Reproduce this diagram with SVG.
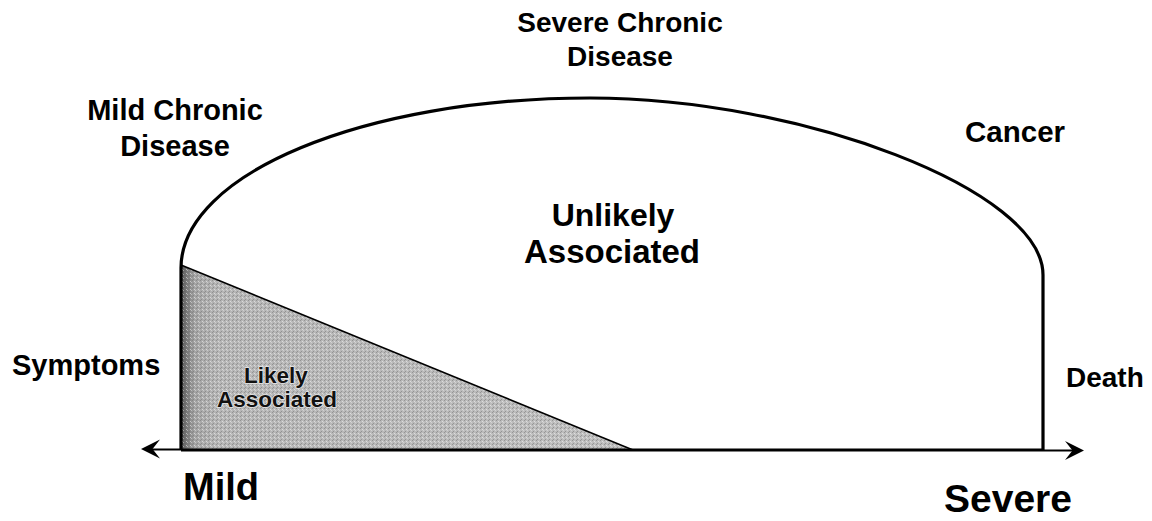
<svg xmlns="http://www.w3.org/2000/svg" width="1152" height="521" viewBox="0 0 1152 521">
  <style>
    .lbl { font-family: "Liberation Sans", Arial, sans-serif; font-weight: bold; fill: #000; text-anchor: middle; }
    .st { text-anchor: start; }
    .outline { fill: none; stroke: #000; stroke-width: 3.2; stroke-linejoin: round; }
    .axis { fill: none; stroke: #000; stroke-width: 3; }
    .thin { fill: none; stroke: #000; stroke-width: 2; }
    .head { fill: #000; stroke: none; }
    .inner { fill: #111; stroke: #e6e6e6; stroke-width: 1.6; paint-order: stroke; }
  </style>
  <defs>
    <linearGradient id="shade" gradientUnits="userSpaceOnUse" x1="181" y1="0" x2="633" y2="0">
      <stop offset="0" stop-color="#555"/>
      <stop offset="0.03" stop-color="#a4a4a4"/>
      <stop offset="0.08" stop-color="#b6b6b6"/>
      <stop offset="1" stop-color="#bfbfbf"/>
    </linearGradient>
    <pattern id="stipple" width="4" height="4" patternUnits="userSpaceOnUse">
      <rect x="0" y="0" width="1" height="1" fill="#777" opacity="0.55"/>
      <rect x="2" y="1" width="1" height="1" fill="#fff" opacity="0.5"/>
      <rect x="1" y="3" width="1" height="1" fill="#666" opacity="0.45"/>
      <rect x="3" y="2" width="1" height="1" fill="#eee" opacity="0.45"/>
    </pattern>
  </defs>

  <rect width="1152" height="521" fill="#fff"/>

  <g id="likely-region">
    <polygon points="181,265 633,450 181,450" fill="url(#shade)"/>
    <polygon points="181,265 633,450 181,450" fill="url(#stipple)"/>
    <line x1="181" y1="265" x2="633" y2="450" stroke="#000" stroke-width="1.6"/>
    <text class="lbl inner" x="276" y="383" font-size="22.5">Likely</text>
    <text class="lbl inner" x="277" y="407" font-size="22.5">Associated</text>
  </g>

  <g id="dome">
    <path class="outline" d="M181,450 L181,268 C181,174 364,98 590,98 C800,98 1043,190 1043,275 L1043,450"/>
  </g>

  <g id="connectors">
    <line class="axis" x1="181" y1="450" x2="1043" y2="450"/>
    <line class="thin" x1="150" y1="449.5" x2="181" y2="449.5"/>
    <path class="head" d="M141,449 L160,439.5 L152.5,449 L160,458.5 Z"/>
    <line class="thin" x1="1043" y1="450.5" x2="1075" y2="450.5"/>
    <path class="head" d="M1084,450.5 L1065,441 L1072.5,450.5 L1065,460 Z"/>
  </g>

  <g id="unlikely-label">
    <text class="lbl" x="613" y="226" font-size="32">Unlikely</text>
    <text class="lbl" x="612" y="263" font-size="33">Associated</text>
  </g>

  <g id="mild-chronic">
    <text class="lbl" x="175" y="120" font-size="29">Mild Chronic</text>
    <text class="lbl" x="175" y="156" font-size="29">Disease</text>
  </g>

  <g id="severe-chronic">
    <text class="lbl" x="620" y="32" font-size="28">Severe Chronic</text>
    <text class="lbl" x="620" y="66" font-size="28">Disease</text>
  </g>

  <g id="cancer">
    <text class="lbl st" x="965" y="142" font-size="29.5">Cancer</text>
  </g>

  <g id="symptoms">
    <text class="lbl st" x="12" y="375" font-size="29">Symptoms</text>
  </g>

  <g id="death">
    <text class="lbl st" x="1066" y="387" font-size="28">Death</text>
  </g>

  <g id="mild">
    <text class="lbl st" x="183" y="500" font-size="38">Mild</text>
  </g>

  <g id="severe">
    <text class="lbl st" x="944" y="512" font-size="39">Severe</text>
  </g>
</svg>
